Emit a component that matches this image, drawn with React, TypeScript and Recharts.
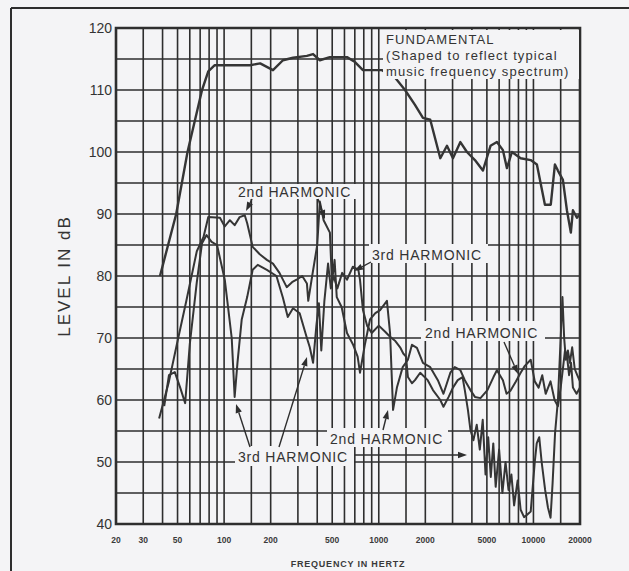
import React from "react";
import {
  LineChart,
  Line,
  XAxis,
  YAxis,
  CartesianGrid,
  ReferenceArea,
} from "recharts";

// Fundamental (shaped music spectrum)
const fundFreq = [38.5, 49, 58, 72, 79, 87, 110, 147, 171, 207, 240, 279, 343, 376, 416, 483, 623, 702, 790, 1048, 1273, 1478, 1714, 1930, 2152, 2499, 2760, 3017, 3370, 3715, 4184, 4713, 5278, 5806, 6348, 6739, 7262, 8265, 9598, 10528, 11864, 12943, 13769, 14397, 15504, 16460, 17454, 17999, 19100, 20000];
const fundDb = [80, 90, 100, 110, 113, 114, 114, 114, 114.3, 113.2, 114.8, 115.2, 115.5, 115.8, 114.8, 115.3, 115.3, 114.5, 113.2, 113.2, 112, 110, 107.6, 105.5, 105.2, 99, 101, 99, 101.6, 100, 98.7, 97, 101, 101.6, 100.3, 97.4, 100, 99, 98.7, 98, 91.5, 91.5, 98, 97, 95.5, 90.6, 87, 90.6, 89.4, 90];

// 2nd harmonic
const h2Freq = [38, 44, 49.5, 57, 66.6, 73.6, 79, 94, 101, 109, 117, 126, 136, 141, 153, 170, 189, 207, 228, 254, 275, 294, 320, 343, 350, 371, 400, 416, 440, 483, 498, 518, 535, 575, 623, 680, 730, 756, 814, 878, 950, 1020, 1129, 1183, 1237, 1310, 1428, 1543, 1639, 1765, 1930, 2152, 2410, 2620, 2902, 3100, 3370, 3600, 3914, 4184, 4545, 5040, 5516, 5806, 6348, 6700, 7100, 7700, 8265, 8800, 9600, 10200, 10800, 11400, 12000, 12900, 13700, 14400, 15000, 15500, 16000, 16500, 17000, 17500, 18000, 19000, 20000];
const h2Db = [57, 63, 69, 76, 84, 86.3, 89.5, 89.4, 88, 89, 88.2, 89.5, 89.8, 88.5, 84.7, 83.5, 82.6, 82, 80.5, 78.2, 79, 79.4, 80, 78.8, 76, 80, 85, 92, 89, 87, 79, 82.6, 76.6, 75, 70.8, 69, 67, 64.4, 69, 73, 74, 74.5, 76, 70.8, 58.4, 62, 65.3, 66.5, 68.9, 68.4, 66, 65.3, 63.2, 61, 64.4, 65.3, 64.8, 63.2, 61.6, 60.5, 60.3, 61.6, 63.7, 64.8, 63.2, 61, 61.5, 63, 64.4, 65.5, 66.5, 63, 62, 64, 61, 63, 60, 59, 62, 65, 68, 67, 64, 66, 62, 61, 62];

// 3rd harmonic
const h3Freq = [41, 44, 48, 52, 56, 60, 66.6, 72, 77, 83, 90, 101, 112, 117, 122, 130, 141, 153, 165, 189, 218, 240, 258, 279, 308, 343, 358, 376, 395, 410, 425, 445, 470, 490, 510, 540, 580, 623, 680, 738, 756, 790, 840, 900, 1000, 1100, 1183, 1280, 1374, 1440, 1500, 1543, 1639, 1714, 1853, 2072, 2240, 2499, 2620, 2830, 3017, 3240, 3480, 3600, 3770, 3914, 4090, 4300, 4500, 4700, 4900, 5100, 5300, 5500, 5700, 6000, 6300, 6600, 6900, 7200, 7500, 7900, 8265, 8700, 9100, 9600, 10200, 10500, 10900, 11300, 11900, 12400, 12900, 13300, 13800, 14400, 15000, 15400, 15800, 16200, 16700, 17200, 17800, 18500, 19200, 20000];
const h3Db = [59, 64, 64.5, 62, 59.5, 69, 79, 85.3, 86.6, 85.5, 85, 79.4, 70, 60.5, 66, 73, 76.6, 81, 81.8, 81, 80, 76.5, 73.4, 74.8, 74, 70, 68.5, 66, 72, 75.6, 68, 76, 82, 78, 80, 78, 80.5, 79.4, 81.5, 81, 79.4, 74.5, 72, 70.8, 72, 71, 70.2, 69.5, 68.5, 67.5, 67, 63.7, 62.7, 63.2, 64.4, 63.2, 61.6, 60, 58.9, 60.5, 62, 63.2, 63.7, 61.6, 58.4, 55.2, 53.5, 56, 52, 56.8, 48, 54, 47.6, 53, 46, 52, 45, 50, 45.5, 48, 43, 47, 42.3, 41.1, 41.5, 42, 50, 53, 54, 50, 45.5, 42.7, 41, 46.6, 54.7, 60, 70, 76.6, 70, 66.5, 68, 66, 68.5, 65, 64, 63];

// axis ticks
const GRID_FREQS = [20, 30, 40, 50, 60, 70, 80, 90, 100, 150, 200, 300, 400, 500, 600, 700, 800, 900, 1000, 1500, 2000, 3000, 4000, 5000, 6000, 7000, 8000, 9000, 10000, 15000, 20000];
const FREQ_LABELS = [20, 30, 50, 100, 200, 500, 1000, 2000, 5000, 10000, 20000];
const DB_TICKS = [40, 45, 50, 55, 60, 65, 70, 75, 80, 85, 90, 95, 100, 105, 110, 115, 120];
const DB_LABELS = [40, 50, 60, 70, 80, 90, 100, 110, 120];

const toRows = (freq: number[], db: number[]) => freq.map((f, i) => ({ f, db: db[i] }));
const fundData = toRows(fundFreq, fundDb);
const h2Data = toRows(h2Freq, h2Db);
const h3Data = toRows(h3Freq, h3Db);

const BG = "#f4f4f6";
const INK = "#2e2e2e";

// annotation boxes (pixel layout)
const boxes = [
  { x: 383, y: 30, w: 196, h: 49 },
  { x: 235, y: 184, w: 122, h: 15 },
  { x: 369, y: 244, w: 119, h: 19 },
  { x: 421, y: 321, w: 124, h: 20 },
  { x: 327, y: 428, w: 121, h: 19 },
  { x: 235, y: 446, w: 119, h: 20 },
];

const noteLines = [
  { x: 386, y: 44, t: "FUNDAMENTAL" },
  { x: 386, y: 60, t: "(Shaped to reflect typical" },
  { x: 386, y: 76, t: "music frequency spectrum)" },
];

const labels = [
  { x: 238, y: 197, t: "2nd HARMONIC" },
  { x: 372, y: 260, t: "3rd HARMONIC" },
  { x: 425, y: 338, t: "2nd HARMONIC" },
  { x: 330, y: 444, t: "2nd HARMONIC" },
  { x: 238, y: 462, t: "3rd HARMONIC" },
];

const arrows = [
  [252, 199, 246, 211],
  [318, 199, 325, 219],
  [371, 262, 354, 271],
  [504, 342, 518, 374],
  [383, 430, 388, 410],
  [250, 447, 236, 404],
  [279, 447, 307, 357],
  [355, 455, 467, 455],
];

function Arrow({ a }: { a: number[] }) {
  const [x1, y1, x2, y2] = a;
  const ang = Math.atan2(y2 - y1, x2 - x1);
  const len = 9;
  const hw = 3.2;
  const bx = x2 - len * Math.cos(ang);
  const by = y2 - len * Math.sin(ang);
  const px = -Math.sin(ang) * hw;
  const py = Math.cos(ang) * hw;
  return (
    <g>
      <line x1={x1} y1={y1} x2={bx} y2={by} stroke={INK} strokeWidth={1.4} />
      <polygon points={`${x2},${y2} ${bx + px},${by + py} ${bx - px},${by - py}`} fill={INK} />
    </g>
  );
}

export default function App() {
  return (
    <div
      style={{
        position: "absolute",
        left: 0,
        top: 0,
        width: 629,
        height: 571,
        background: BG,
        fontFamily: '"Liberation Sans", Arial, sans-serif',
        overflow: "hidden",
      }}
    >
      <LineChart width={629} height={571} margin={{ top: 28, right: 49, bottom: 0, left: 0 }}>
        <CartesianGrid stroke={INK} strokeWidth={1.6} />
        <XAxis
          dataKey="f"
          type="number"
          scale="log"
          domain={[20, 20000]}
          allowDataOverflow
          ticks={GRID_FREQS}
          interval={0}
          height={47}
          tickLine={false}
          axisLine={false}
          tickMargin={7}
          tickFormatter={(v: number) => (FREQ_LABELS.includes(v) ? String(v) : "")}
          tick={{ fontSize: 8.5, fontWeight: 700, fill: "#3a3a3a" }}
          label={{
            value: "FREQUENCY IN HERTZ",
            position: "insideBottom",
            offset: 4,
            style: { fontSize: 9, fontWeight: 700, fill: "#3a3a3a", letterSpacing: 0.8 },
          }}
        />
        <YAxis
          type="number"
          domain={[40, 120]}
          allowDataOverflow
          ticks={DB_TICKS}
          interval={0}
          width={116}
          tickLine={false}
          axisLine={false}
          tickSize={2}
          tickMargin={2}
          tickFormatter={(v: number) => (DB_LABELS.includes(v) ? String(v) : "")}
          tick={{ fontSize: 14, fill: "#333" }}
          label={{
            value: "LEVEL IN dB",
            angle: -90,
            position: "insideLeft",
            offset: 64,
            style: { fontSize: 17, fill: "#333", letterSpacing: 2, textAnchor: "middle" },
          }}
        />
        <ReferenceArea x1={20} x2={20000} y1={40} y2={120} fill="none" stroke={INK} strokeWidth={2.6} />
        <Line data={fundData} dataKey="db" type="linear" stroke="#353535" strokeWidth={2.4} dot={false} isAnimationActive={false} strokeLinejoin="round" />
        <Line data={h2Data} dataKey="db" type="linear" stroke="#353535" strokeWidth={2} dot={false} isAnimationActive={false} strokeLinejoin="round" />
        <Line data={h3Data} dataKey="db" type="linear" stroke="#353535" strokeWidth={2} dot={false} isAnimationActive={false} strokeLinejoin="round" />
      </LineChart>
      <svg width={629} height={571} style={{ position: "absolute", left: 0, top: 0, pointerEvents: "none" }}>
        <line x1={11} y1={8} x2={629} y2={8} stroke={INK} strokeWidth={2} />
        <line x1={11} y1={8} x2={11} y2={571} stroke={INK} strokeWidth={2} />
        {boxes.map((b, i) => (
          <rect key={i} x={b.x} y={b.y} width={b.w} height={b.h} fill={BG} />
        ))}
        {noteLines.map((l, i) => (
          <text key={i} x={l.x} y={l.y} fontSize={13} fill="#333" letterSpacing={1.1}>
            {l.t}
          </text>
        ))}
        {labels.map((l, i) => (
          <text key={i} x={l.x} y={l.y} fontSize={14} fill="#333" letterSpacing={0.8}>
            {l.t}
          </text>
        ))}
        {arrows.map((a, i) => (
          <Arrow key={i} a={a} />
        ))}
      </svg>
    </div>
  );
}
